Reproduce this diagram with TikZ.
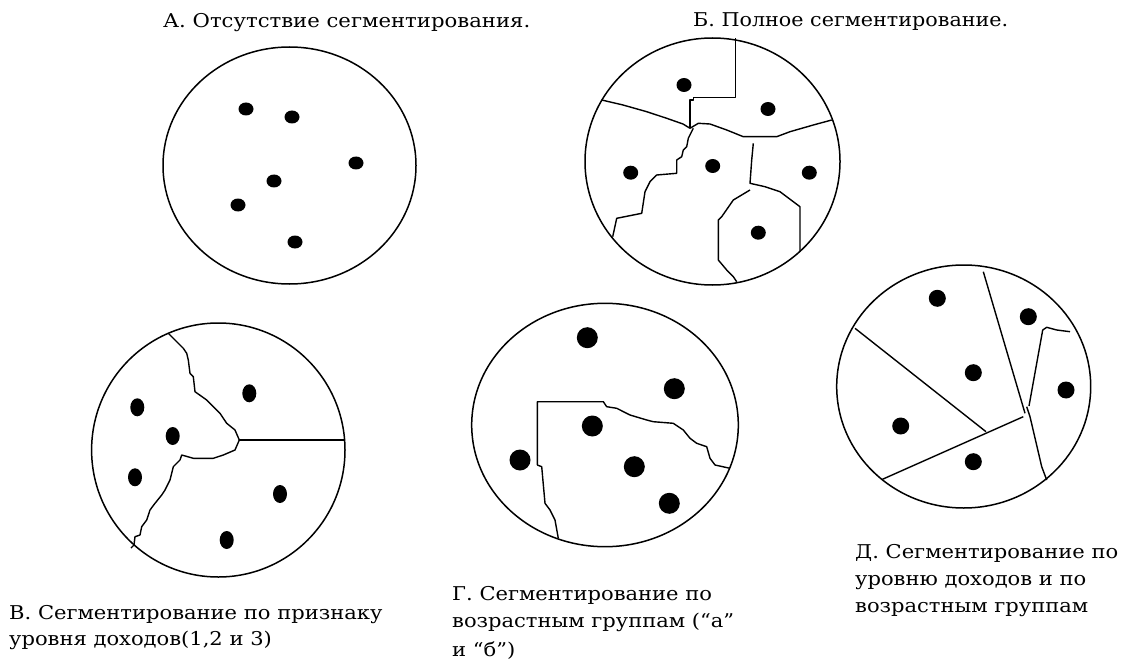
\documentclass[tikz,border=0pt]{standalone}
\usepackage{fontspec}
\setmainfont{DejaVu Serif}
\usepackage{graphicx}
\newcommand\wl[2]{\resizebox{#1pt}{\height}{#2}}
\newcommand\captfont{\fontsize{19}{27}\selectfont}
\newlength\reflen
\begin{document}
\settowidth{\reflen}{\captfont Д. Сегментирование по}
\pgfmathsetmacro\capsc{263pt/\reflen}
\newcommand\cl[1]{\scalebox{\capsc}[1]{#1}}
\begin{tikzpicture}[x=1pt,y=-1pt,
  rim/.style={draw=black, line width=1.5pt},
  seg/.style={draw=black, line width=1.4pt, line join=round},
  captext/.style={anchor=base west, inner sep=0pt, font=\captfont}]
\useasboundingbox (0,0) rectangle (1126,663);
\fill[white] (0,0) rectangle (1126,663);

% ---------- A ----------
\draw[rim] (289.5,165.5) ellipse [x radius=126.5pt, y radius=118.5pt];
\foreach \p in {(246,109),(292,117),(356,163),(274,181),(238,205),(295,242)}
  \fill \p ellipse [x radius=7.5pt, y radius=6.5pt];

% ---------- Б ----------
\draw[rim] (712.5,161.5) ellipse [x radius=127.5pt, y radius=123.5pt];
\draw[seg] (735.7,38.3) -- (735.7,97.3) -- (693.3,97.3) -- (693.3,100) -- (690,100) -- (690,128.3);
\draw[seg] (601.7,100) -- (623,105) -- (646.7,111.7) -- (666.7,118.3) -- (683,124) -- (690,128.3);
\draw[seg] (690,128.3) -- (698.3,123.3) -- (710,124) -- (726.7,130) -- (743.3,136.7) -- (776.7,136.7) -- (790,131.7) -- (813.3,125) -- (831.7,120);
\draw[seg] (693.3,128.3) -- (688.3,138.3) -- (686.7,146.7) -- (683.3,150) -- (681.7,156.7) -- (676.7,160) -- (676.7,173.3) -- (656.7,175) -- (650,181.7) -- (645,191.7) -- (641.7,213.3) -- (616.7,218.3) -- (612.7,236.7);
\draw[seg] (753.3,143.3) -- (751.7,160) -- (750,183.3) -- (765,186.7) -- (780,191.7) -- (800,206.7) -- (800,251.7);
\draw[seg] (750,190) -- (733.3,200) -- (721.7,216.7) -- (718.3,220) -- (718.3,260) -- (726.7,270) -- (733.3,276.7) -- (736.7,281.7);
\foreach \p in {(684,85),(768,109),(630.7,172.7),(712.7,166),(809.3,172.7),(758.3,232.7)}
  \fill \p ellipse [x radius=7.5pt, y radius=7pt];

% ---------- В ----------
\draw[rim] (218.3,450) ellipse [x radius=126.7pt, y radius=127pt];
\draw[seg] (239.3,440) -- (345,440);
\draw[seg] (168.3,333.3) -- (183.3,348.3) -- (186.7,353.3) -- (188.3,360) -- (190,373.3) -- (193.3,376.7) -- (195,391.7) -- (206.7,400) -- (220,413.3) -- (226.7,423.3) -- (235,430) -- (239.3,440);
\draw[seg] (239.3,440) -- (235,450) -- (223.3,455) -- (213.3,458.3) -- (193.3,458.3) -- (181.7,455) -- (180,460) -- (173.3,466.7) -- (170,480) -- (165,490) -- (161.7,495) -- (155,503.3) -- (150,510) -- (146.7,520) -- (141.7,526.7) -- (140,535) -- (135,536.7) -- (134,545) -- (131,548);
\foreach \p in {(137.3,407.3),(249.3,393.3),(172.7,436),(135,477.3),(280,494),(226.7,540)}
  \fill \p ellipse [x radius=7pt, y radius=9pt];

% ---------- Г ----------
\draw[rim] (605,425) ellipse [x radius=133.3pt, y radius=121.7pt];
\draw[seg] (537.3,465) -- (537.3,401.7) -- (603.3,401.7) -- (606.7,406.7) -- (616.7,408.3) -- (630,415) -- (646.7,420) -- (653.3,421.7) -- (673.3,423.3) -- (683.3,430) -- (690,438.3) -- (696.7,443.3) -- (706.7,446.7) -- (710,458.3) -- (715,465) -- (730,468.3);
\draw[seg] (537.3,465) -- (541.7,466.7) -- (545,503.3) -- (550,510) -- (555,520) -- (558.3,538.3);
\foreach \p in {(587.3,337.7),(674.3,388.7),(592.3,426),(520,460),(634.3,466.7),(669.3,503.3)}
  \fill \p circle [radius=10.5pt];

% ---------- Д ----------
\draw[rim] (963.7,386.5) ellipse [x radius=127pt, y radius=121.5pt];
\draw[seg] (855,328.3) -- (986,431.7);
\draw[seg] (882,479.5) -- (1023.3,416.7);
\draw[seg] (983.3,271.7) -- (1025,413.3);
\draw[seg] (1026.7,406.7) -- (1030,416.7) -- (1041.7,466.7) -- (1046.7,480);
\draw[seg] (1029,406) -- (1042.7,330) -- (1046.7,327.3) -- (1056.7,330) -- (1070,331.7);
\foreach \p in {(937.3,298.3),(1028.3,316.7),(973.3,372.7),(1066,390),(900.7,426),(973.3,461.7)}
  \fill \p circle [radius=8.5pt];

% ---------- captions ----------
\node[captext] (tA) at (163,28) {\wl{367}{А. Отсутствие сегментирования.}};
\node[captext] (tB) at (693,27) {\wl{315}{Б. Полное сегментирование.}};

\node[captext] (tV1) at (9,619) {\cl{В. Сегментирование по признаку}};
\node[captext] (tV2) at (9,645) {\cl{уровня доходов(1,2 и 3)}};

\node[captext] (tG1) at (452,600) {\cl{Г. Сегментирование по}};
\node[captext] (tG2) at (452,627) {\cl{возрастным группам (“а”}};
\node[captext] (tG3) at (452,656) {\cl{и “б”)}};

\node[captext] (tD1) at (855,558) {\cl{Д. Сегментирование по}};
\node[captext] (tD2) at (855,585) {\cl{уровню доходов и по}};
\node[captext] (tD3) at (855,612) {\cl{возрастным группам}};
\end{tikzpicture}
\end{document}
